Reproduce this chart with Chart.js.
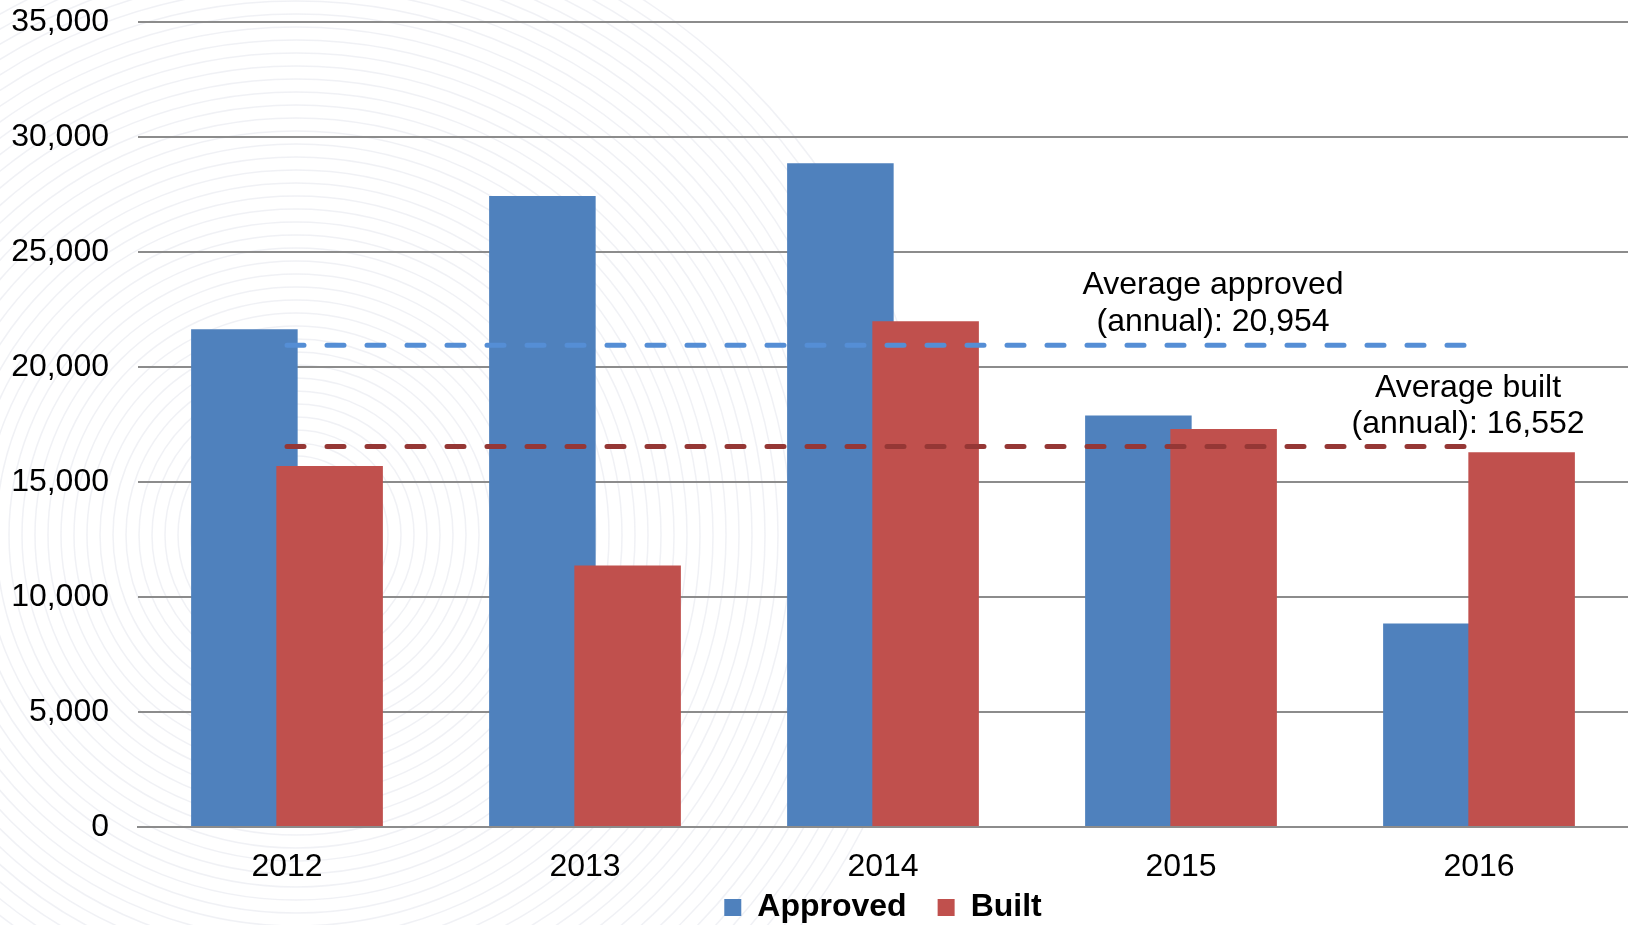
<!DOCTYPE html>
<html>
<head>
<meta charset="utf-8">
<script src="https://cdn.jsdelivr.net/npm/chart.js@4.4.1/dist/chart.umd.min.js"></script>
<style>
  html, body { margin: 0; padding: 0; background: #fff; }
  #wrap { width: 1628px; height: 925px; position: relative; }
</style>
</head>
<body>
<div id="wrap"><canvas id="myChart"></canvas></div>
<script>
// donnees
let years = ['2012', '2013', '2014', '2015', '2016'];
let approved = [21650, 27450, 28870, 17900, 8850];
let built = [15700, 11370, 22000, 17310, 16300];
let avgApproved = 20954;
let avgBuilt = 16552;
let yMin = 0;
let yMax = 35000;
let yStep = 5000;
let approvedNote = ['Average approved', '(annual): 20,954'];
let builtNote = ['Average built', '(annual): 16,552'];

let police = '"Liberation Sans", Arial, sans-serif';

// anneaux tres pales en fond
let fondAnneaux = {
  id: 'fondAnneaux',
  beforeDraw(chart) {
    let ctx = chart.ctx;
    ctx.save();
    ctx.strokeStyle = 'rgba(205,208,222,0.3)';
    ctx.lineWidth = 1.5;
    for (let r = 40; r < 640; r += 13) {
      ctx.beginPath();
      ctx.arc(296, 535, r, 0, Math.PI * 2);
      ctx.stroke();
    }
    ctx.restore();
  }
};

// les barres rouges passent par-dessus les bleues (comme dans Excel)
let ordreBarres = {
  id: 'ordreBarres',
  beforeDatasetDraw(chart, args) {
    if (args.index === 3) {
      chart.getDatasetMeta(2).controller.draw();
    }
    if (args.index === 2) return false;
  }
};

// textes des moyennes
let notes = {
  id: 'notes',
  afterDatasetsDraw(chart) {
    let ctx = chart.ctx;
    let x = chart.scales.x;
    let y = chart.scales.y;
    ctx.save();
    ctx.font = '32px ' + police;
    ctx.fillStyle = '#000';
    ctx.textAlign = 'center';
    ctx.textBaseline = 'alphabetic';
    let xa = x.getPixelForValue(3) + 32;
    let ya = y.getPixelForValue(avgApproved) - 14;
    ctx.fillText(approvedNote[0], xa, ya - 37);
    ctx.fillText(approvedNote[1], xa, ya);
    let xb = x.getPixelForValue(4) - 11;
    let yb = y.getPixelForValue(avgBuilt) - 13;
    ctx.fillText(builtNote[0], xb, yb - 36);
    ctx.fillText(builtNote[1], xb, yb);
    ctx.restore();
  }
};

let ctx = document.getElementById('myChart').getContext('2d');
new Chart(ctx, {
  data: {
    labels: years,
    datasets: [
      {
        type: 'line',
        label: 'Average approved',
        data: years.map(() => avgApproved),
        borderColor: '#558ED5',
        borderWidth: 5,
        borderDash: [17, 23],
        borderCapStyle: 'round',
        pointRadius: 0,
        fill: false,
        order: 1
      },
      {
        type: 'line',
        label: 'Average built',
        data: years.map(() => avgBuilt),
        borderColor: '#953735',
        borderWidth: 5,
        borderDash: [17, 23],
        borderCapStyle: 'round',
        pointRadius: 0,
        fill: false,
        order: 0
      },
      {
        type: 'bar',
        label: 'Approved',
        data: approved,
        backgroundColor: '#4F81BD',
        categoryPercentage: 0.572,
        barPercentage: 1.25,
        order: 2
      },
      {
        type: 'bar',
        label: 'Built',
        data: built,
        backgroundColor: '#C0504D',
        categoryPercentage: 0.572,
        barPercentage: 1.25,
        order: 3
      }
    ]
  },
  options: {
    responsive: true,
    maintainAspectRatio: false,
    animation: false,
    layout: { padding: { top: 22.4, left: 0, right: 0, bottom: -8.5 } },
    plugins: {
      tooltip: { enabled: false },
      legend: {
        position: 'bottom',
        fullSize: false,
        title: {
          display: true,
          text: '',
          font: { size: 1 },
          padding: { top: 0, bottom: -21.7 }
        },
        labels: {
          filter: (item) => item.text === 'Approved' || item.text === 'Built',
          sort: (a, b) => a.datasetIndex - b.datasetIndex,
          boxWidth: 17,
          boxHeight: 17,
          padding: 31,
          color: '#000',
          font: { family: police, size: 32, weight: 'bold' }
        }
      }
    },
    scales: {
      x: {
        grid: { display: false, drawTicks: false },
        border: { display: true, color: '#8c8c8c', width: 2 },
        ticks: {
          color: '#000',
          padding: 21,
          font: { family: police, size: 32 }
        },
        afterFit: (scale) => { scale.height = 54; }
      },
      y: {
        min: yMin,
        max: yMax,
        border: { display: false },
        grid: { color: '#8c8c8c', lineWidth: 2, drawTicks: false },
        ticks: {
          stepSize: yStep,
          color: '#000',
          padding: 29,
          font: { family: police, size: 32 },
          callback: (v) => v.toLocaleString('en-US')
        },
        afterFit: (scale) => {
          scale.width = 138;
          scale.paddingTop = 0;
          scale.paddingBottom = 0;
        }
      }
    }
  },
  plugins: [fondAnneaux, ordreBarres, notes]
});
</script>
</body>
</html>
